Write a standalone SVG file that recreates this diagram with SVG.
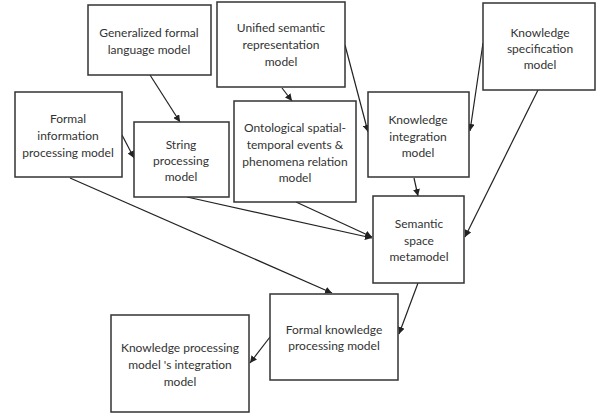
<svg xmlns="http://www.w3.org/2000/svg" width="596" height="416" viewBox="0 0 596 416">
<defs>
<style>
.box{fill:#fff;stroke:#333;stroke-width:1.5}
.t{font-family:Lato,"Open Sans","Liberation Sans",sans-serif;font-size:12px;fill:#333;text-anchor:middle}
.c{stroke:#222;stroke-width:1.2;fill:none;marker-end:url(#ah)}
</style>
<marker id="ah" viewBox="0 0 10 10" refX="10" refY="5" markerWidth="7" markerHeight="7" markerUnits="userSpaceOnUse" orient="auto">
<path d="M0,0 L10,5 L0,10 z" fill="#222"/>
</marker>
</defs>
<rect width="596" height="416" fill="#fff"/>
<g id="connectors">
<line class="c" x1="150" y1="75" x2="180" y2="122"/>
<line class="c" x1="282" y1="88" x2="292" y2="101"/>
<line class="c" x1="122" y1="135" x2="134" y2="158"/>
<line class="c" x1="345" y1="45" x2="368" y2="132"/>
<line class="c" x1="483" y1="43" x2="470" y2="131"/>
<line class="c" x1="538" y1="90" x2="465" y2="237"/>
<line class="c" x1="414" y1="178" x2="418" y2="196"/>
<line class="c" x1="296" y1="202" x2="372" y2="237"/>
<line class="c" x1="187" y1="197" x2="372" y2="238"/>
<line class="c" x1="70" y1="178" x2="332" y2="293"/>
<line class="c" x1="418" y1="283" x2="399" y2="334"/>
<line class="c" x1="270" y1="337" x2="250" y2="363"/>
</g>
<g id="generalized">
<rect class="box" x="88" y="5" width="123" height="70"/>
<text class="t" x="149" y="37">Generalized formal</text>
<text class="t" x="149" y="54">language model</text>
</g>
<g id="unified">
<rect class="box" x="217" y="2" width="128" height="85"/>
<text class="t" x="281" y="32">Unified semantic</text>
<text class="t" x="281" y="49">representation</text>
<text class="t" x="281" y="66">model</text>
</g>
<g id="formalinfo">
<rect class="box" x="15" y="92" width="107" height="85"/>
<text class="t" x="68" y="123">Formal</text>
<text class="t" x="68" y="140">information</text>
<text class="t" x="68" y="157">processing model</text>
</g>
<g id="string">
<rect class="box" x="134" y="122" width="95" height="75"/>
<text class="t" x="181" y="149">String</text>
<text class="t" x="181" y="165">processing</text>
<text class="t" x="181" y="181">model</text>
</g>
<g id="ontological">
<rect class="box" x="234" y="101" width="122" height="101"/>
<text class="t" x="295" y="132">Ontological spatial-</text>
<text class="t" x="295" y="149">temporal events &amp;</text>
<text class="t" x="295" y="166">phenomena relation</text>
<text class="t" x="295" y="182">model</text>
</g>
<g id="kintegration">
<rect class="box" x="368" y="92" width="101" height="85"/>
<text class="t" x="418" y="124">Knowledge</text>
<text class="t" x="418" y="141">integration</text>
<text class="t" x="418" y="157">model</text>
</g>
<g id="kspec">
<rect class="box" x="483" y="3" width="112" height="87"/>
<text class="t" x="540" y="37">Knowledge</text>
<text class="t" x="540" y="53">specification</text>
<text class="t" x="540" y="69">model</text>
</g>
<g id="semantic">
<rect class="box" x="373" y="196" width="91" height="87"/>
<text class="t" x="419" y="228">Semantic</text>
<text class="t" x="419" y="245">space</text>
<text class="t" x="419" y="261">metamodel</text>
</g>
<g id="formalknowledge">
<rect class="box" x="270" y="294" width="128" height="86"/>
<text class="t" x="334" y="334">Formal knowledge</text>
<text class="t" x="334" y="350">processing model</text>
</g>
<g id="kpintegration">
<rect class="box" x="111" y="315" width="138" height="97"/>
<text class="t" x="180" y="352">Knowledge processing</text>
<text class="t" x="180" y="369">model 's integration</text>
<text class="t" x="180" y="386">model</text>
</g>
</svg>
